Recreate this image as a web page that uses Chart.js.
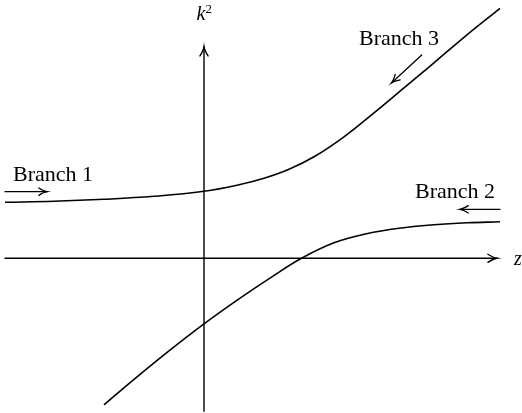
<!DOCTYPE html>
<html>
<head>
<meta charset="utf-8">
<script src="https://cdn.jsdelivr.net/npm/chart.js@4"></script>
<style>
  html, body { margin:0; padding:0; background:#fff; }
  #wrap { width:522px; height:413px; position:relative; }
</style>
</head>
<body>
<div id="wrap"><canvas id="c"></canvas></div>
<script>
// upper branch (branch 1 on the left, branch 3 on the right)
const upperZ = [-3.98, -3.0, -2.0, -1.0, 0, 0.7, 1.2, 1.7, 2.2, 2.8, 3.4, 4.0, 4.6, 5.2, 5.92];
const upperK = [1.12, 1.14, 1.18, 1.24, 1.34, 1.47, 1.60, 1.78, 2.03, 2.43, 2.91, 3.41, 3.91, 4.42, 5.0];
// lower branch (branch 2)
const lowerZ = [-2.0, -1.4, -0.7, 0, 0.7, 1.35, 1.95, 2.6, 3.25, 3.9, 4.6, 5.26, 5.92];
const lowerK = [-2.93, -2.42, -1.85, -1.31, -0.81, -0.375, 0, 0.31, 0.49, 0.60, 0.67, 0.71, 0.73];

const zRange = [-4.08, 6.36];
const kRange = [-3.094, 5.166];
const zAxisSpan = [-3.98, 5.86];
const kAxisSpan = [-3.06, 4.23];

const pts = (xs, ys) => xs.map((x, i) => ({ x, y: ys[i] }));

const SERIF = '"Liberation Serif", "DejaVu Serif", serif';

function arrowHead(ctx, x, y, ang, len){
  const a = 0.42;
  ctx.beginPath();
  ctx.moveTo(x - len*Math.cos(ang - a), y - len*Math.sin(ang - a));
  ctx.quadraticCurveTo(x - len*0.35*Math.cos(ang - 0.15), y - len*0.35*Math.sin(ang - 0.15), x, y);
  ctx.quadraticCurveTo(x - len*0.35*Math.cos(ang + 0.15), y - len*0.35*Math.sin(ang + 0.15), x - len*Math.cos(ang + a), y - len*Math.sin(ang + a));
  ctx.stroke();
}

function arrow(ctx, x0, y0, x1, y1, len){
  ctx.beginPath(); ctx.moveTo(x0, y0); ctx.lineTo(x1, y1); ctx.stroke();
  arrowHead(ctx, x1, y1, Math.atan2(y1 - y0, x1 - x0), len);
}

const diagram = {
  id: 'diagram',
  afterDatasetsDraw(chart){
    const { ctx, scales: { x, y } } = chart;
    const px = v => x.getPixelForValue(v), py = v => y.getPixelForValue(v);
    ctx.save();
    ctx.strokeStyle = '#000'; ctx.fillStyle = '#000';
    ctx.lineCap = 'round';

    // axes
    ctx.lineWidth = 1.4;
    arrow(ctx, px(zAxisSpan[0]), py(0), px(zAxisSpan[1]), py(0), 10);
    arrow(ctx, px(0), py(kAxisSpan[0]), px(0), py(kAxisSpan[1]), 10);

    // axis names
    ctx.font = 'italic 20px ' + SERIF;
    ctx.textBaseline = 'alphabetic';
    ctx.fillText('z', px(6.2), py(-0.134));
    const kx = px(-0.15), ky = py(4.766);
    ctx.fillText('k', kx, ky);
    const kw = ctx.measureText('k').width;
    ctx.font = '13px ' + SERIF;
    ctx.fillText('2', kx + kw, ky - 7);

    // branch labels and direction arrows
    ctx.font = '22px ' + SERIF;
    ctx.fillText('Branch 1', px(-3.82), py(1.546));
    ctx.fillText('Branch 2', px(4.22), py(1.206));
    ctx.fillText('Branch 3', px(3.10), py(4.266));
    ctx.lineWidth = 1.3;
    arrow(ctx, px(-3.98), py(1.332), px(-3.14), py(1.332), 9);
    arrow(ctx, px(5.92), py(0.98), px(5.12), py(0.98), 9);
    arrow(ctx, px(4.354), py(4.066), px(3.754), py(3.512), 9);
    ctx.restore();
  }
};

const line = (data) => ({
  data, borderColor: '#000', borderWidth: 1.6, pointRadius: 0,
  showLine: true, fill: false, tension: 0.4
});

new Chart(document.getElementById('c'), {
  type: 'scatter',
  data: { datasets: [ line(pts(upperZ, upperK)), line(pts(lowerZ, lowerK)) ] },
  options: {
    responsive: true, maintainAspectRatio: false, animation: false,
    layout: { padding: 0 },
    plugins: { legend: { display: false }, tooltip: { enabled: false } },
    scales: {
      x: { type: 'linear', display: false, min: zRange[0], max: zRange[1] },
      y: { type: 'linear', display: false, min: kRange[0], max: kRange[1] }
    }
  },
  plugins: [diagram]
});
</script>
</body>
</html>
